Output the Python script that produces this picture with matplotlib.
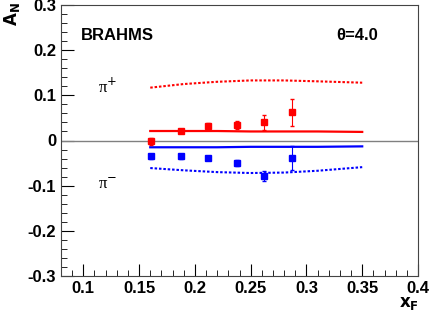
"""
Single-spin asymmetry A_N vs x_F, BRAHMS
"""

import matplotlib.pyplot as plt
from matplotlib.ticker import MultipleLocator
import numpy as np

plt.rcParams["font.family"] = ["Liberation Sans", "DejaVu Sans"]

# data points
xf_pts = [0.161, 0.188, 0.212, 0.238, 0.262, 0.287]
an_pip = [-0.002, 0.021, 0.032, 0.035, 0.040, 0.062]
err_pip = [0.007, 0.005, 0.006, 0.009, 0.017, 0.029]
an_pim = [-0.035, -0.035, -0.039, -0.050, -0.078, -0.039]
err_pim = [0.005, 0.005, 0.005, 0.006, 0.011, 0.026]

# model curves
xf_curve = [0.16, 0.19, 0.22, 0.25, 0.28, 0.31, 0.35]
pip_solid = [0.021, 0.021, 0.021, 0.020, 0.020, 0.020, 0.019]
pip_dotted = [0.117, 0.125, 0.130, 0.133, 0.133, 0.131, 0.128]
pim_solid = [-0.015, -0.015, -0.015, -0.014, -0.014, -0.014, -0.013]
pim_dotted = [-0.061, -0.066, -0.070, -0.072, -0.071, -0.067, -0.059]

fig = plt.figure(figsize=(4.29, 3.10), dpi=100)
ax = fig.add_axes([61 / 429, 34 / 310, 357 / 429, 271 / 310])

ax.axhline(0, color="gray", lw=1)

ax.plot(xf_curve, pip_solid, color="red", lw=1.6)
ax.plot(xf_curve, pip_dotted, color="red", lw=1.5, ls=(0, (1.2, 0.9)))
ax.plot(xf_curve, pim_solid, color="blue", lw=1.6)
ax.plot(xf_curve, pim_dotted, color="blue", lw=1.5, ls=(0, (1.2, 0.9)))

ax.errorbar(xf_pts, an_pip, yerr=err_pip, fmt="s", color="red", ms=4.5,
            elinewidth=0.8, capsize=1.5)
ax.errorbar(xf_pts, an_pim, yerr=err_pim, fmt="s", color="blue", ms=4.5,
            elinewidth=0.8, capsize=1.5)

ax.set_xlim(0.08, 0.4)
ax.set_ylim(-0.3, 0.3)
ax.xaxis.set_minor_locator(MultipleLocator(0.01))
ax.yaxis.set_minor_locator(MultipleLocator(0.02))
ax.tick_params(which="both", direction="in", labelsize=12)
ax.tick_params(which="major", length=9)
ax.tick_params(which="minor", length=4.5)
ax.set_xticks([0.1, 0.15, 0.2, 0.25, 0.3, 0.35, 0.4])
ax.set_xticklabels(["0.1", "0.15", "0.2", "0.25", "0.3", "0.35", "0.4"],
                   fontweight="bold")
ax.set_yticks([-0.3, -0.2, -0.1, 0, 0.1, 0.2, 0.3])
ax.set_yticklabels(["-0.3", "-0.2", "-0.1", "0", "0.1", "0.2", "0.3"],
                   fontweight="bold")

for sp in ax.spines.values():
    sp.set_color("#444444")

ax.text(0.098, 0.222, "BRAHMS", fontsize=12, fontweight="bold")
ax.text(0.327, 0.222, "θ=4.0", fontsize=12, fontweight="bold")
ax.text(0.113, 0.105, "π$^{+}$", fontsize=12,
        family=["Liberation Serif", "DejaVu Serif"])
ax.text(0.113, -0.108, "π$^{-}$", fontsize=12,
        family=["Liberation Serif", "DejaVu Serif"])

fig.text(12 / 429, 1 - 14 / 310, r"$\mathbf{A_N}$", rotation=90, fontsize=12,
         ha="center", va="center")
fig.text(409 / 429, 1 - 303 / 310, r"$\mathbf{x_F}$", fontsize=12,
         ha="center", va="center")

plt.savefig("out.png", dpi=100)
